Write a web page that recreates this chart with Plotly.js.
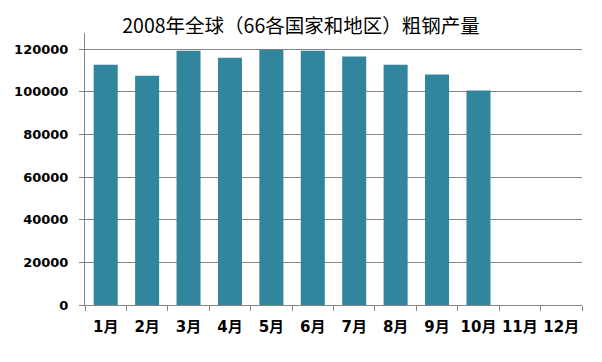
<!DOCTYPE html>
<html>
<head>
<meta charset="utf-8">
<script src="https://cdn.plot.ly/plotly-3.0.1.min.js"></script>
<style>html,body{margin:0;padding:0;background:#fff;}#chart{width:602px;height:362px;}</style>
</head>
<body>
<div id="chart"></div>
<script>
var months = ["1月","2月","3月","4月","5月","6月","7月","8月","9月","10月","11月","12月"];
var production = [112600, 107500, 119200, 115900, 119700, 119200, 116500, 112600, 108100, 100600, null, null];
var yTicks = [0, 20000, 40000, 60000, 80000, 100000, 120000];
var titleText = "2008年全球（66各国家和地区）粗钢产量";

var yLabelFont = {family: "DejaVu Sans, Noto Sans CJK SC, sans-serif", size: 13, color: "#000", weight: "bold"};
var xLabelFont = {family: "DejaVu Sans, Noto Sans CJK SC, sans-serif", size: 15, color: "#000", weight: "bold"};

var data = [{
  type: "bar",
  x: months,
  y: production,
  marker: {color: "#31859C", line: {width: 0}},
  hoverinfo: "x+y"
}];

var layout = {
  width: 602, height: 362,
  margin: {l: 85, r: 20, t: 33, b: 57},
  paper_bgcolor: "#fff", plot_bgcolor: "#fff",
  showlegend: false,
  bargap: 0.42,
  title: {
    text: titleText,
    font: {family: "Noto Sans CJK SC, sans-serif", size: 19.5, color: "#000"},
    x: 0.5, xanchor: "center",
    y: 1 - 26/362, yanchor: "middle", yref: "container"
  },
  xaxis: {
    type: "category",
    categoryorder: "array", categoryarray: months,
    range: [-0.5, 11.5],
    showline: true, linecolor: "#868686", linewidth: 1,
    ticks: "outside", ticklen: 5, tickcolor: "#868686", tickson: "boundaries",
    showgrid: false, zeroline: false,
    tickfont: xLabelFont,
    tickangle: 0,
    ticklabelstandoff: 8
  },
  yaxis: {
    range: [0, 127500],
    tickvals: yTicks,
    ticktext: yTicks.map(String),
    showline: true, linecolor: "#868686", linewidth: 1,
    ticks: "outside", ticklen: 5, tickcolor: "#868686",
    showgrid: true, gridcolor: "#868686", gridwidth: 1,
    zeroline: false,
    tickfont: yLabelFont,
    ticklabelstandoff: 8
  }
};

Plotly.newPlot("chart", data, layout, {displayModeBar: false, staticPlot: true});
</script>
</body>
</html>
